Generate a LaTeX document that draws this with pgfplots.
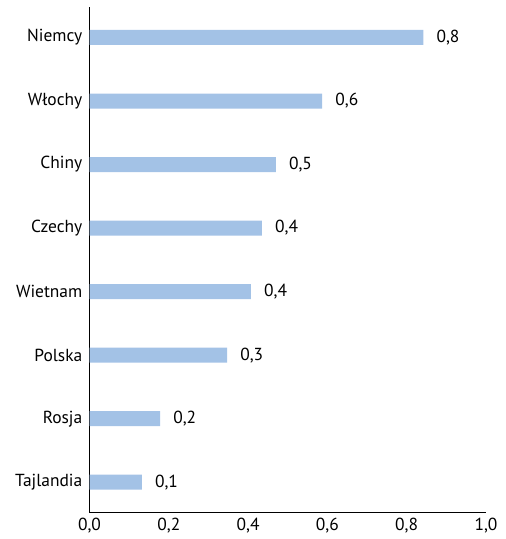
\documentclass[border=0pt]{standalone}
\usepackage{fontspec}
\setmainfont{PT Sans}
\usepackage{pgfplots}
\pgfplotsset{compat=1.18}
\definecolor{barblue}{RGB}{163,194,230}

\begin{document}
\begin{tikzpicture}
\begin{axis}[
    scale only axis,
    width=396.5bp, height=505.7bp,
    xbar, bar width=15bp,
    xmin=0, xmax=1, ymin=-0.48, ymax=7.48,
    xtick={0,0.2,...,1},
    ytick={0,...,7},
    yticklabels={Tajlandia,Rosja,Polska,Wietnam,Czechy,Chiny,Włochy,Niemcy},
    axis x line*=bottom, axis y line*=left,
    axis line style={black, line width=0.8pt, -},
    major tick length=0pt,
    tick label style={font=\fontsize{17.5}{20}\selectfont},
    yticklabel style={inner sep=0pt, xshift=-7bp},
    xticklabel style={inner sep=0pt, yshift=-5bp, anchor=north},
    /pgf/number format/.cd, fixed, fixed zerofill, precision=1, use comma,
      assume math mode=true,
    /pgfplots/.cd,
    point meta=x,
    nodes near coords,
    every node near coord/.append style={anchor=west, inner sep=0pt,
      xshift=13bp, font=\fontsize{17.5}{20}\selectfont, black},
]
\addplot[fill=barblue, draw=none] coordinates {
    (0.132,0) (0.178,1) (0.347,2) (0.407,3)
    (0.435,4) (0.470,5) (0.587,6) (0.842,7)
};
\end{axis}
\path (current axis.south west) ++(-89.5bp,-26.3bp) coordinate (bl);
\pgfresetboundingbox
\useasboundingbox (bl) rectangle ++(506bp,539bp);
\end{tikzpicture}
\end{document}
